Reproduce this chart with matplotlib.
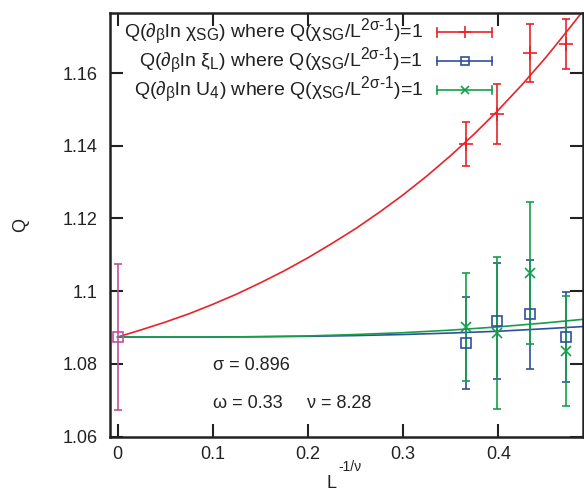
import matplotlib
matplotlib.use("Agg")
import matplotlib.pyplot as plt
from matplotlib.lines import Line2D
import matplotlib._mathtext as _mt

_mt.SHRINK_FACTOR = 0.8

plt.rcParams['font.family'] = ['Liberation Sans', 'DejaVu Sans']
plt.rcParams['mathtext.fontset'] = 'custom'
plt.rcParams['mathtext.rm'] = 'Liberation Sans'
plt.rcParams['mathtext.it'] = 'Liberation Sans'
plt.rcParams['mathtext.sf'] = 'Liberation Sans'
plt.rcParams['mathtext.bf'] = 'Liberation Sans:bold'

# ---- data ----
x_pts = [0.366, 0.399, 0.433, 0.471]

q_chi = [1.1405, 1.1488, 1.1654, 1.1680]
q_chi_err = [0.0060, 0.0082, 0.0080, 0.0068]

q_xi = [1.0858, 1.0918, 1.0937, 1.0874]
q_xi_err = [0.0127, 0.0159, 0.0150, 0.0123]

q_u4 = [1.0901, 1.0885, 1.1049, 1.0836]
q_u4_err = [0.0148, 0.0210, 0.0195, 0.0152]

x_inf = [0.0]
q_inf = [1.0874]
q_inf_err = [0.0200]

# fitted curves
x_fit_chi = [0.0, 0.025, 0.05, 0.075, 0.10, 0.125, 0.15, 0.175, 0.20, 0.225,
             0.25, 0.275, 0.30, 0.325, 0.35, 0.375, 0.40, 0.425, 0.45, 0.475, 0.49]
fit_chi = [1.0874, 1.0894, 1.0915, 1.0938, 1.0964, 1.0992, 1.1023, 1.1056, 1.1092, 1.1131,
           1.1172, 1.1217, 1.1265, 1.1317, 1.1373, 1.1433, 1.1498, 1.1568, 1.1643, 1.1724, 1.1774]
x_fit = [0.0, 0.05, 0.10, 0.15, 0.20, 0.25, 0.30, 0.35, 0.40, 0.45, 0.49]
fit_xi = [1.0874, 1.0874, 1.0874, 1.0875, 1.0876, 1.0878, 1.0881, 1.0885, 1.0890, 1.0897, 1.0903]
fit_u4 = [1.0874, 1.0874, 1.0874, 1.0875, 1.0877, 1.0881, 1.0886, 1.0893, 1.0902, 1.0913, 1.0923]

labels = [
    r'Q($\partial_{\beta}$ln $\chi_{\mathrm{SG}}$) where Q($\chi_{\mathrm{SG}}$/L$^{2\sigma\text{-}1}$)=1',
    r'Q($\partial_{\beta}$ln $\xi_{\mathrm{L}}$) where Q($\chi_{\mathrm{SG}}$/L$^{2\sigma\text{-}1}$)=1',
    r'Q($\partial_{\beta}$ln U$_{4}$) where Q($\chi_{\mathrm{SG}}$/L$^{2\sigma\text{-}1}$)=1',
]
xticks = [0, 0.1, 0.2, 0.3, 0.4]
xticklabels = ['0', '0.1', '0.2', '0.3', '0.4']
yticks = [1.06, 1.08, 1.10, 1.12, 1.14, 1.16]
yticklabels = ['1.06', '1.08', '1.1', '1.12', '1.14', '1.16']

RED = '#e8232a'
BLUE = '#2f4f9f'
GREEN = '#15a048'
MAG = '#c050a0'
INK = '#222222'

W, H = 584, 492
fig = plt.figure(figsize=(W / 100, H / 100), dpi=100)
ax = fig.add_axes([110/W, 1 - 436.7/H, 473/W, 423.7/H])

lw = 1.2
ax.plot(x_fit_chi, fit_chi, color=RED, lw=lw, zorder=2)
ax.plot(x_fit, fit_xi, color=BLUE, lw=lw, zorder=2)
ax.plot(x_fit, fit_u4, color=GREEN, lw=lw, zorder=2)

ekw = dict(elinewidth=lw, capsize=3, capthick=lw, ls='none', zorder=3)
ax.errorbar(x_pts, q_chi, yerr=q_chi_err, color=RED, marker='+', ms=10, mew=lw, **ekw)
ax.errorbar(x_pts, q_xi, yerr=q_xi_err, color=BLUE, marker='s', ms=7, mfc='none', mew=lw, **ekw)
ax.errorbar(x_pts, q_u4, yerr=q_u4_err, color=GREEN, marker='x', ms=7, mew=lw, **ekw)
ax.errorbar(x_inf, q_inf, yerr=q_inf_err, color=MAG, marker='s', ms=7, mfc='none', mew=lw, **ekw)

# ---- gnuplot-style key: right-aligned text, horizontal error-bar sample ----
key_colors = [RED, BLUE, GREEN]
key_markers = ['+', 's', 'x']
for i, (lab, c, m) in enumerate(zip(labels, key_colors, key_markers)):
    yc = 32.3 + 28.8 * i
    fig.text(423 / W, 1 - (yc + 5.5) / H, lab, fontsize=14, color=INK,
             ha='right', va='baseline')
    x0, x1 = 437 / W, 492 / W
    yy = 1 - yc / H
    cap = 4.3 / H
    fig.add_artist(Line2D([x0, x1], [yy, yy], color=c, lw=lw, transform=fig.transFigure))
    for xx in (x0, x1):
        fig.add_artist(Line2D([xx, xx], [yy - cap, yy + cap], color=c, lw=lw,
                              transform=fig.transFigure))
    fig.add_artist(Line2D([(x0 + x1) / 2], [yy], marker=m, ms=9 if m == '+' else 6,
                          mfc='none', mec=c, mew=lw, ls='none', transform=fig.transFigure))

ax.text(0.1003, 1.0797, 'σ = 0.896', fontsize=13, va='center', ha='left', color=INK)
ax.text(0.1003, 1.0690, 'ω = 0.33', fontsize=13, va='center', ha='left', color=INK)
ax.text(0.1987, 1.0690, 'ν = 8.28', fontsize=13, va='center', ha='left', color=INK)

ax.set_xlim(-0.008, 0.489)
ax.set_ylim(1.06, 1.1765)
ax.set_xticks(xticks)
ax.set_xticklabels(xticklabels)
ax.set_yticks(yticks)
ax.set_yticklabels(yticklabels)
ax.tick_params(direction='in', top=True, right=True, length=9.5, width=1.5,
               labelsize=13, color=INK, labelcolor=INK)
ax.tick_params(axis='y', pad=9)
ax.tick_params(axis='x', pad=7)
for s in ax.spines.values():
    s.set_linewidth(1.8)
    s.set_color(INK)

# x label: "L" with a high-raised exponent, as in the reference
ax.set_xlabel('L', fontsize=13, color=INK)
ax.xaxis.set_label_coords((331 - 110) / 473, -(475 - 436.7) / 423.7)
ax.xaxis.label.set_va('top')
fig.text(338 / W, 1 - 467 / H, '-1/ν', fontsize=10, color=INK, ha='left', va='center')

ax.set_ylabel('Q', fontsize=13, color=INK)
ax.yaxis.set_label_coords((29 - 110) / 473, 0.5)

fig.savefig('out.png', dpi=100)
